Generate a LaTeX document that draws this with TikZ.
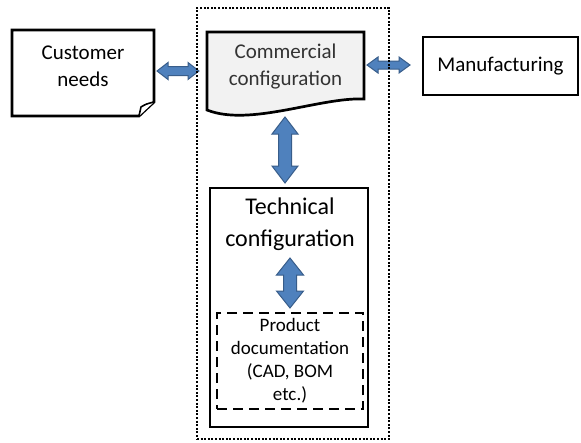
\documentclass[tikz,border=0pt]{standalone}
\usepackage{fontspec}
\setmainfont{Carlito}
\usetikzlibrary{calc}

\definecolor{arrowfill}{HTML}{4F81BD}
\definecolor{arrowline}{HTML}{385D8A}
\definecolor{docfill}{HTML}{F2F2F2}
\definecolor{doctext}{HTML}{333333}

% horizontal block arrow: start, end, half head width, half shaft width, head length
\newcommand\hblockarrow[5]{%
  \filldraw[blockarrow] let \p1=(#1), \p2=(#2) in
    (\x1,\y1) -- ({\x1+#5pt},{\y1+#3pt}) -- ({\x1+#5pt},{\y1+#4pt})
    -- ({\x2-#5pt},{\y1+#4pt}) -- ({\x2-#5pt},{\y1+#3pt}) -- (\x2,\y1)
    -- ({\x2-#5pt},{\y1-#3pt}) -- ({\x2-#5pt},{\y1-#4pt})
    -- ({\x1+#5pt},{\y1-#4pt}) -- ({\x1+#5pt},{\y1-#3pt}) -- cycle;}
% vertical block arrow: upper end, lower end, half head width, half shaft width, head length
\newcommand\vblockarrow[5]{%
  \filldraw[blockarrow] let \p1=(#1), \p2=(#2) in
    (\x1,\y1) -- ({\x1+#3pt},{\y1-#5pt}) -- ({\x1+#4pt},{\y1-#5pt})
    -- ({\x1+#4pt},{\y2+#5pt}) -- ({\x1+#3pt},{\y2+#5pt}) -- (\x1,\y2)
    -- ({\x1-#3pt},{\y2+#5pt}) -- ({\x1-#4pt},{\y2+#5pt})
    -- ({\x1-#4pt},{\y1-#5pt}) -- ({\x1-#3pt},{\y1-#5pt}) -- cycle;}

\tikzset{
  blockarrow/.style={fill=arrowfill, draw=arrowline, line width=1pt, line join=miter},
  boxline/.style={draw=black, line width=2.7pt, line join=miter},
  plainbox/.style={boxline, fill=white, outer sep=0pt, inner sep=0pt, align=center},
  bigtext/.style={font=\fontsize{21}{27}\selectfont},
  techtext/.style={font=\fontsize{24}{32}\selectfont},
  smalltext/.style={font=\fontsize{19}{23}\selectfont},
  dottedframe/.style={draw=black, line width=2.5pt, dash pattern=on 2pt off 1.6pt, outer sep=0pt},
  dashedbox/.style={draw=black, line width=2.6pt, dash pattern=on 10pt off 6pt, outer sep=0pt}
}

\begin{document}
\begin{tikzpicture}[x=1pt, y=-1pt]
  \useasboundingbox[fill=white] (0,0) rectangle (581,442);

  % customer needs: sheet with a folded corner
  \node[outer sep=0pt, inner sep=0pt, minimum width=142, minimum height=86] (cust) at (83,73) {};
  \draw[boxline, fill=white]
    (cust.north west) -- (cust.north east) -- ($(cust.south east)+(0,-14)$)
    -- ($(cust.south east)+(-15,0)$) -- (cust.south west) -- cycle;
  \draw[line width=1.6pt, fill=white, line join=round]
    ($(cust.south east)+(0,-14)$) .. controls ($(cust.south east)+(-8,-12)$) ..
    ($(cust.south east)+(-13,-9)$) .. controls ($(cust.south east)+(-14,-5)$) ..
    ($(cust.south east)+(-15,0)$);
  \node[bigtext, align=center] (custlbl) at (83,66) {Customer\\needs};

  % commercial configuration: document shape
  \node[outer sep=0pt, inner sep=0pt, minimum width=157, minimum height=69] (comm) at (285.5,66.5) {};
  \draw[boxline, fill=docfill]
    ($(comm.south west)+(0,9)$) .. controls ($(comm.south west)+(43,26)$)
    and ($(comm.south east)+(-44,-4)$) .. ($(comm.south east)+(0,-2)$)
    -- (comm.north east) -- (comm.north west) -- cycle;
  \node[bigtext, align=center, text=doctext] (commlbl) at (comm.center) {Commercial\\configuration};

  % manufacturing
  \node[plainbox, bigtext, minimum width=155, minimum height=58] (manu) at (500.5,66) {Manufacturing};

  % technical configuration with product documentation inside
  \node[plainbox, minimum width=158, minimum height=239] (tech) at (289,307.5) {};
  \node[techtext, align=center] (techlbl) at (290,224) {Technical\\configuration};
  \node[dashedbox, minimum width=146, minimum height=96] (prod) at (290,361) {};
  \node[smalltext, align=center] (prodlbl) at (prod.center) {Product\\documentation\\(CAD, BOM\\etc.)};

  % exchanges between the parts
  \hblockarrow{$(cust.east)+(3,-2)$}{$(comm.west)+(-8,0)$}{8.5}{4.5}{11}
  \hblockarrow{$(comm.east |- manu.west)+(3,-1)$}{$(manu.west)+(-13,0)$}{8}{4}{11}
  \vblockarrow{$(comm.south)+(-0.5,16)$}{$(tech.north)+(0,-5)$}{13}{6.5}{17}
  \vblockarrow{$(prod.north)+(0,-55)$}{$(prod.north)+(0,-5)$}{13.5}{6.5}{17}

  % configuration boundary
  \node[dottedframe, minimum width=192, minimum height=431] (frame) at (293,223.5) {};
\end{tikzpicture}
\end{document}
